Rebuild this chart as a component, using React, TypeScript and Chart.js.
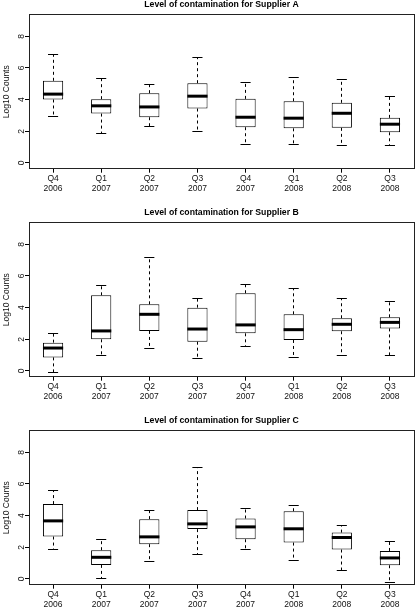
import React, { useEffect, useRef } from "react";
import { Chart, registerables } from "chart.js";

Chart.register(...registerables);

const FONT = "'Liberation Sans', Arial, Helvetica, sans-serif";

const categories: string[][] = [
  ["Q4", "2006"], ["Q1", "2007"], ["Q2", "2007"], ["Q3", "2007"],
  ["Q4", "2007"], ["Q1", "2008"], ["Q2", "2008"], ["Q3", "2008"],
];
const yTicks = [0, 2, 4, 6, 8];
const yMin = -0.36;
const yMax = 9.36;

// Supplier A
const aLower = [2.93, 1.86, 2.28, 2.0, 1.18, 1.14, 1.08, 1.08];
const aQ1 = [4.01, 3.12, 2.89, 3.44, 2.26, 2.19, 2.22, 1.94];
const aMedian = [4.35, 3.61, 3.54, 4.22, 2.89, 2.83, 3.14, 2.45];
const aQ3 = [5.19, 4.03, 4.41, 5.04, 4.05, 3.9, 3.8, 2.85];
const aUpper = [6.84, 5.36, 4.96, 6.65, 5.11, 5.42, 5.3, 4.18];

// Supplier B
const bLower = [-0.08, 0.99, 1.39, 0.8, 1.56, 0.84, 0.99, 0.99];
const bQ1 = [0.86, 2.0, 2.53, 1.85, 2.38, 1.96, 2.51, 2.69];
const bMedian = [1.45, 2.53, 3.58, 2.65, 2.91, 2.61, 2.95, 3.07];
const bQ3 = [1.79, 4.78, 4.21, 4.0, 4.91, 3.58, 3.33, 3.39];
const bUpper = [2.38, 5.41, 7.18, 4.57, 5.47, 5.24, 4.55, 4.42];

// Supplier C
const cLower = [1.84, 0.04, 1.08, 1.54, 1.88, 1.18, 0.53, -0.21];
const cQ1 = [2.68, 0.89, 2.2, 3.15, 2.51, 2.3, 1.86, 0.87];
const cMedian = [3.67, 1.37, 2.66, 3.48, 3.29, 3.17, 2.62, 1.33];
const cQ3 = [4.73, 1.82, 3.78, 4.35, 3.82, 4.28, 2.93, 1.77];
const cUpper = [5.59, 2.47, 4.35, 7.01, 4.47, 4.64, 3.36, 2.36];

type Panel = {
  title: string;
  lower: number[];
  q1: number[];
  median: number[];
  q3: number[];
  upper: number[];
};

const panels: Panel[] = [
  { title: "Level of contamination for Supplier A", lower: aLower, q1: aQ1, median: aMedian, q3: aQ3, upper: aUpper },
  { title: "Level of contamination for Supplier B", lower: bLower, q1: bQ1, median: bMedian, q3: bQ3, upper: bUpper },
  { title: "Level of contamination for Supplier C", lower: cLower, q1: cQ1, median: cMedian, q3: cQ3, upper: cUpper },
];

const panelTops = [0, 208, 416];
const W = 416;
const H = 192;

function makeConfig(p: Panel): any {
  const snap = (v: number) => Math.round(v - 0.5) + 0.5;
  const boxPlugin = {
    id: "boxWhiskers",
    beforeDatasetsDraw(chart: any) {
      const ctx = chart.ctx;
      const ys = chart.scales.y;
      const meta = chart.getDatasetMeta(0);
      ctx.save();
      ctx.strokeStyle = "#000";
      ctx.lineWidth = 1;
      meta.data.forEach((bar: any, i: number) => {
        const x = snap(bar.x);
        const w = bar.width;
        const yUp = ys.getPixelForValue(p.upper[i]);
        const yQ3 = ys.getPixelForValue(p.q3[i]);
        const yQ1 = ys.getPixelForValue(p.q1[i]);
        const yLo = ys.getPixelForValue(p.lower[i]);
        ctx.setLineDash([3, 3]);
        ctx.beginPath();
        ctx.moveTo(x, yQ3);
        ctx.lineTo(x, yUp);
        ctx.moveTo(x, yQ1);
        ctx.lineTo(x, yLo);
        ctx.stroke();
        ctx.setLineDash([]);
        ctx.beginPath();
        ctx.moveTo(bar.x - w / 4, snap(yUp));
        ctx.lineTo(bar.x + w / 4, snap(yUp));
        ctx.moveTo(bar.x - w / 4, snap(yLo));
        ctx.lineTo(bar.x + w / 4, snap(yLo));
        ctx.stroke();
      });
      ctx.restore();
    },
    afterDatasetsDraw(chart: any) {
      const ctx = chart.ctx;
      const ys = chart.scales.y;
      const meta = chart.getDatasetMeta(0);
      ctx.save();
      ctx.strokeStyle = "#000";
      ctx.lineWidth = 3;
      meta.data.forEach((bar: any, i: number) => {
        const y = ys.getPixelForValue(p.median[i]);
        ctx.beginPath();
        ctx.moveTo(bar.x - bar.width / 2, y);
        ctx.lineTo(bar.x + bar.width / 2, y);
        ctx.stroke();
      });
      const a = chart.chartArea;
      ctx.lineWidth = 1;
      ctx.strokeStyle = "#222";
      ctx.strokeRect(snap(a.left), snap(a.top), Math.round(a.right - a.left), Math.round(a.bottom - a.top));
      ctx.restore();
    },
  };

  return {
    type: "bar",
    data: {
      labels: categories,
      datasets: [
        {
          data: p.q1.map((v, i) => [v, p.q3[i]]),
          backgroundColor: "#fff",
          borderColor: "#000",
          borderWidth: 1,
          borderSkipped: false,
          barPercentage: 0.42,
          categoryPercentage: 1,
        },
      ],
    },
    options: {
      responsive: false,
      animation: false,
      events: [],
      layout: { padding: { left: 0, right: 2, top: 0, bottom: 0 } },
      plugins: {
        legend: { display: false },
        tooltip: { enabled: false },
        title: {
          display: true,
          text: p.title,
          fullSize: false,
          color: "#000",
          font: { family: FONT, size: 8.7, weight: "bold", lineHeight: 1.1 },
          padding: { top: 0, bottom: 5.2 },
        },
      },
      scales: {
        x: {
          type: "category",
          offset: true,
          grid: {
            display: true,
            offset: false,
            drawOnChartArea: false,
            drawTicks: true,
            tickLength: 4,
            color: "#000",
          },
          border: { display: true, color: "#000" },
          ticks: {
            color: "#111",
            font: { family: FONT, size: 8.5, lineHeight: 1.18 },
            padding: 1.3,
            maxRotation: 0,
            minRotation: 0,
            autoSkip: false,
          },
          afterFit(scale: any) {
            scale.height = 23.3;
          },
        },
        y: {
          type: "linear",
          min: yMin,
          max: yMax,
          grid: {
            display: true,
            drawOnChartArea: false,
            drawTicks: true,
            tickLength: 4,
            color: "#000",
          },
          border: { display: true, color: "#000" },
          ticks: {
            color: "#111",
            font: { family: FONT, size: 8.5 },
            padding: 1.1,
            minRotation: 90,
            maxRotation: 90,
            crossAlign: "center",
          },
          afterBuildTicks(scale: any) {
            scale.ticks = yTicks.map((v) => ({ value: v }));
          },
          title: {
            display: true,
            text: "Log10 Counts",
            color: "#111",
            font: { family: FONT, size: 8.5, lineHeight: 1.2 },
            padding: { top: 2, bottom: 0 },
          },
          afterFit(scale: any) {
            scale.width = 29;
          },
        },
      },
    },
    plugins: [boxPlugin],
  };
}

function BoxPanel({ panel, top }: { panel: Panel; top: number }) {
  const ref = useRef<HTMLCanvasElement | null>(null);
  useEffect(() => {
    if (!ref.current) return;
    const chart = new Chart(ref.current, makeConfig(panel));
    return () => chart.destroy();
  }, [panel]);
  return (
    <div style={{ position: "absolute", left: 0, top, width: W, height: H }}>
      <canvas ref={ref} width={W} height={H} style={{ display: "block", width: W, height: H }} />
    </div>
  );
}

export default function App() {
  return (
    <div style={{ position: "absolute", left: 0, top: 0, width: 416, height: 608, background: "#fff", overflow: "hidden" }}>
      {panels.map((p, i) => (
        <BoxPanel key={p.title} panel={p} top={panelTops[i]} />
      ))}
    </div>
  );
}
